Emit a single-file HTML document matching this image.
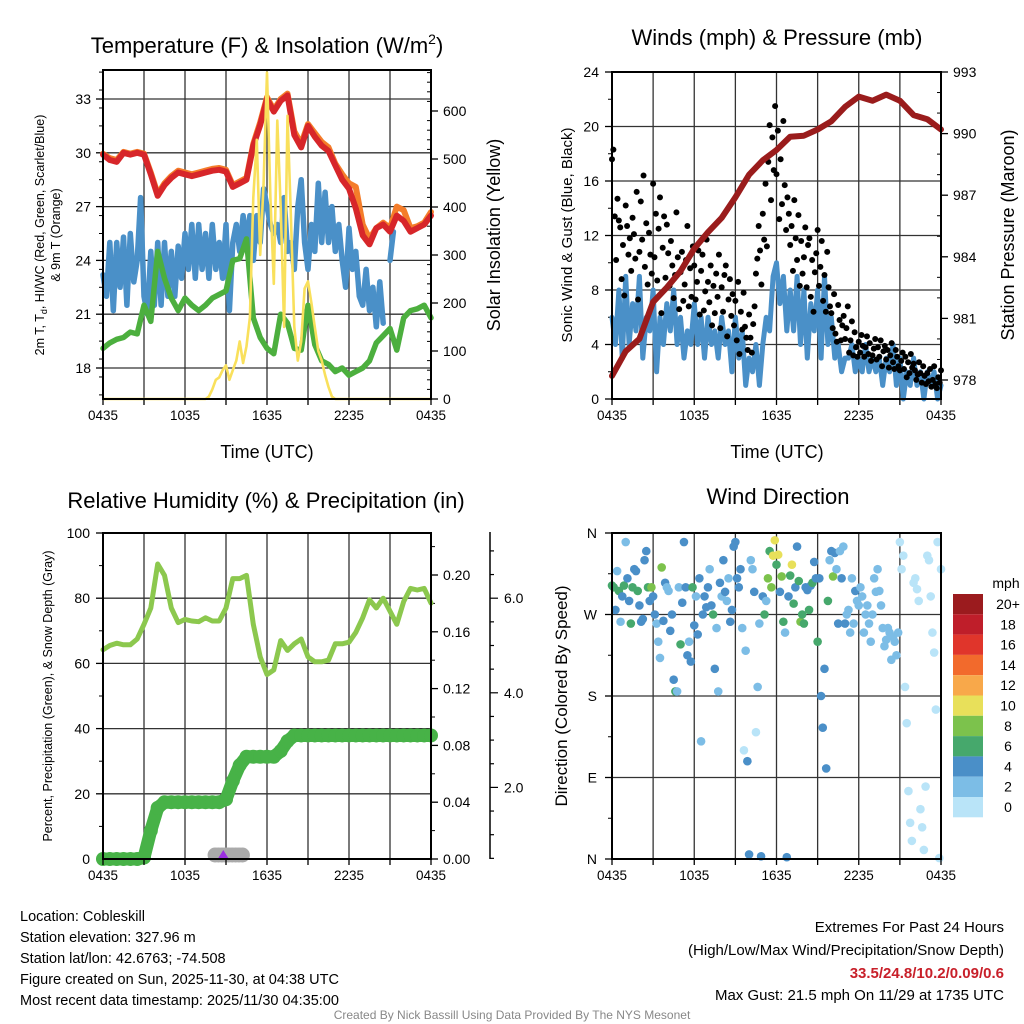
<!DOCTYPE html>
<html><head><meta charset="utf-8"><style>
html,body{margin:0;padding:0;background:#fff;}
svg{display:block;font-family:"Liberation Sans",sans-serif;}
</style></head><body>
<svg id="c" width="1024" height="1024" viewBox="0 0 1024 1024" xmlns="http://www.w3.org/2000/svg"></svg>
<script>
// ---------- DATA ----------
const xTickLabels = ["0435","1035","1635","2235","0435"];
const tempTicks = [18,21,24,27,30,33];
const solarTicks = [0,100,200,300,400,500,600];
const windTicks = [0,4,8,12,16,20,24];
const presTicks = [978,981,984,987,990,993];
const rhTicks = [0,20,40,60,80,100];
const precipTicks = ["0.00","0.04","0.08","0.12","0.16","0.20"];
const snowTicks = ["2.0","4.0","6.0"];
const dirLabels = ["N","E","S","W","N"];
const cbarLabels = ["20+","18","16","14","12","10","8","6","4","2","0"];
const cbarColors = ["#9b1b1e","#bf1e2a","#e0352b","#f26a2c","#f8a84a","#e8e05a","#7cc24c","#46a86c","#4a8fc8","#7cbde6","#b9e4f8"];

const temp2m = [29.9,29.6,29.5,30.0,29.9,30.0,29.9,28.8,27.6,28.2,28.6,28.9,28.8,28.7,28.8,28.9,29.0,29.05,28.95,28.1,28.3,28.5,30.4,31.55,33.0,32.3,32.9,33.2,31.0,30.3,31.5,30.9,30.4,30.1,29.3,28.5,28.0,26.9,25.4,24.9,25.8,26.0,25.6,26.5,26.2,25.6,25.8,26.0,26.5];
const temp9m = [29.95,29.7,29.6,30.05,29.95,30.05,29.95,28.9,27.7,28.3,28.7,29.0,28.9,28.8,28.9,29.0,29.1,29.15,29.05,28.2,28.4,28.6,30.5,31.7,33.1,32.4,33.0,33.3,31.2,30.5,31.6,31.1,30.6,30.3,29.4,28.8,28.3,28.1,26.0,25.2,25.8,26.1,25.8,27.0,26.8,25.8,25.9,26.1,26.7];
const windChill = [23.2,22.0,25.0,21.2,25.0,22.5,25.3,21.5,25.5,22.8,24.0,27.5,22.0,21.0,24.5,21.5,25.0,21.5,25.0,22.0,24.5,22.0,24.8,23.0,25.5,23.5,26.0,23.0,26.0,23.5,25.5,23.0,26.0,23.5,25.0,23.0,26.0,21.2,25.0,26.0,24.5,26.5,25.0,26.5,24.0,26.5,25.0,28.0,27.0,26.0,25.5,26.0,25.0,27.5,24.5,25.0,23.5,27.0,28.5,25.0,23.5,26.0,24.5,28.3,25.0,27.8,25.0,27.0,24.5,26.0,24.0,22.5,25.8,23.5,24.5,22.0,21.5,23.5,21.2,22.5,20.3,22.8,20.5,null,24.0,25.6,null,null,null,null,null,null,null,null,null,null,null];
const dewpoint = [19.1,19.4,19.6,19.7,20.0,19.9,21.5,20.6,24.5,23.0,21.9,21.2,21.9,21.5,21.2,21.5,21.9,22.1,22.3,24.0,24.1,25.2,20.8,19.7,19.1,18.8,21.0,20.5,19.1,19.0,21.5,19.3,18.4,18.2,17.8,18.0,17.6,17.8,18.0,18.4,19.4,19.8,20.2,19.0,20.8,21.2,21.3,21.5,20.8];
const solar = [0,0,0,0,0,0,0,0,0,0,0,0,0,0,0,0,0,0,0,0,0,0,0,0,0,0,0,0,0,0,0,5,20,40,45,60,70,40,60,80,120,75,110,170,420,540,300,450,680,420,240,580,400,150,590,380,150,80,120,230,245,200,150,100,80,50,25,5,0,0,0,0,0,0,0,0,0,0,0,0,0,0,0,0,0,0,0,0,0,0,0,0,0,0,0,0,0];
const pressure = [978.2,979.4,980.0,981.8,982.5,983.3,984.4,985.2,985.9,986.9,988.0,988.7,989.2,989.85,989.9,990.2,990.6,991.3,991.8,991.6,991.9,991.6,990.9,990.7,990.2];
const windSpeed = [6,4,8,3,9,4,7,5,9,3,6,5, 8,2,6,4,7,5,8,4,6,3,5,4, 7,4,6,3,6,4,5,3,6,4,5,2, 6,3,5,1,3,2,4,1,4,6,5,9, 10,7,9,5,8,5,9,4,8,3,7,5, 8,3,9,4,6,3,4,2,3,3,4,2, 3,2,4,2,3,2,3,1,3,2,4,1, 3,0,2,1,3,1,2,0,2,1,2,0,1];
const gusts = [17.6,18.3,13.4,10.2,14.7,13.1,12.6,8.8,11.3,7.6, 14.2,12.7,10.6,11.8,9.4,13.3,12.1,10.3,15.2,7.3, 10.8,14.5,11.7,16.4,9.7,12.9,8.4,12.2,10.6,9.2, 15.8,10.4,13.6,8.7,12.5,14.8,6.3,11.1,13.4,8.9, 12.8,10.7,8.3,11.6,9.8,7.4,9.1,13.7,10.4,6.6, 9.3,10.8,7.2,8.4,10.2,12.7,6.8,9.6,7.5,11.2, 9.8,7.3,8.6,10.9,6.2,9.4,10.6,6.5,7.9,11.7, 8.6,7.1,9.8,5.4,8.3,6.3,9.2,7.5,10.6,5.2, 8.2,6.4,9.1,9.8,4.6,7.3,8.8,6.1,7.7,5.4, 7.2,4.3,8.6,3.3,6.4,5.1,7.8,5.3,4.5,3.6, 6.2,4.5,3.4,5.5,6.8,9.2,10.3,12.7,10.9,8.4, 13.6,11.7,15.8,11.2,17.4,20.1,14.6,19.2,16.8,21.5, 16.5,19.7,13.2,17.6,14.3,20.4,15.7,12.4,14.8,13.6, 11.3,12.7,9.4,14.6,11.8,10.2,13.5,8.3,11.6,9.2, 10.4,12.6,8.2,11.3,11.8,7.5,10.2,6.4,9.3,10.7, 12.4,8.3,9.7,11.6,7.2,9.1,6.4,10.8,8.2,6.8, 6.3,5.2,7.7,4.8,4.2,6.9,5.8,4.3,5.4,6.1, 4.4,5.2,6.8,3.4,4.3,5.7,3.2,4.9,3.8,3.1, 4.2,3.4,4.7,3.9,3.1,3.8,4.6,3.3,4.1,2.8, 3.2,3.7,4.4,2.9,3.8,3.1,4.3,2.4,3.5,3.9, 2.9,3.6,2.3,3.2,4.1,2.7,2.2,3.6,3.1,2.4, 2.1,2.8,3.4,2.2,3.1,1.6,2.7,1.9,3.3,2.3, 2.6,2.1,1.4,1.8,2.7,1.9,1.2,2.4,1.7,1.1, 1.9,1.3,2.2,0.9,1.4,2.4,1.1,0.8,1.6,1.2, 2.1];
const rh = [64.2,65.5,66.2,65.7,65.7,67.5,72,77,90.5,87,77,72.5,73.5,73,72.8,74,73,73,77,86,86,87,72,62,56.6,58,67,64,66,67.5,62,60.5,60.5,61,66,66,66.5,69.5,74,79.5,77,80,76,72,79,83,82.5,83,78.5];
const precip = [0,0,0,0,0,0,0.001,0.02,0.036,0.04,0.04,0.04,0.04,0.04,0.04,0.04,0.04,0.04,0.042,0.055,0.066,0.072,0.072,0.072,0.072,0.072,0.076,0.083,0.087,0.087,0.087,0.087,0.087,0.087,0.087,0.087,0.087,0.087,0.087,0.087,0.087,0.087,0.087,0.087,0.087,0.087,0.087,0.087,0.087];
// snow depth (in) for hours 8.2..10.2 in quarter hours
const snowDepth = [0,0,0,0,0,0,0,0,0];
const windDir = [302,300,275,318,296,262,290,302, 350,310,285,260,300,320,318,296, 280,262,265,330,340,300,285,300, 290,270,260,240,222,322,263,305, 300,296,252,270,198,185,185,300, 237,283,350,300,225,240,218,300, 258,290,248,310,130,270,290,278, 300,320,280,270,210,255,185,305, 290,330,295,285,310,262,275,345, 350,310,300,320,255,120,230,108, 5,330,320,295,140,190,260,3, 290,270,285,310,340,300,335,352, 325,336,295,312,262,250,2,290, 313,325,282,300,345,307,262,270, 260,300,297,275,302,305,328,310, 240,310,180,145,210,100,285,330, 340,312,338,320,260,340,310,345, 260,270,275,250,310,260,296,285, 280,300,290,250,270,280,260,240, 270,310,295,320,296,280,255,235, 242,255,250,220,245,240,225,250, 350,320,335,190,150,75,40,20, 305,310,298,285,55,35,10,80, 335,330,290,250,228,165,350,1, 320];
const dirSpeed = [6,6,4,3,6,3,5,7, 2,4,4,7,6,5,4,7, 5,5,4,4,4,6,5,8, 4,4,3,3,2,8,4,5, 3,3,4,4,4,6,2,2, 6,4,4,4,4,3,4,7, 5,3,4,4,2,4,4,4, 4,2,4,6,4,3,2,4, 3,4,5,3,2,4,4,4, 4,4,4,4,3,1,2,4, 4,2,3,4,1,2,2,4, 5,6,3,8,6,8,10,10, 6,10,5,8,6,3,4,4, 7,10,7,4,4,6,9,7, 6,4,4,6,5,6,4,5, 6,4,4,4,4,4,7,3, 4,8,4,2,4,2,4,2, 4,2,3,3,2,2,4,2, 2,2,2,2,2,2,2,2, 2,2,2,2,2,2,2,2, 2,2,2,2,2,2,2,2, 1,1,1,1,1,1,1,1, 1,1,1,1,1,1,1,1, 1,1,1,1,1,1,1,1, 1];

// ---------- HELPERS ----------
const NS="http://www.w3.org/2000/svg";
const svg=document.getElementById('c');
function mk(tag,attrs,parent){const e=document.createElementNS(NS,tag);for(const k in attrs)e.setAttribute(k,attrs[k]);(parent||svg).appendChild(e);return e;}
function txt(s,x,y,size,anchor,parent,extra){const e=mk('text',Object.assign({x:x,y:y,'font-size':size,'text-anchor':anchor||'middle',fill:'#000'},extra||{}),parent);e.textContent=s;return e;}
function line(x1,y1,x2,y2,w,col,parent){return mk('line',{x1:x1,y1:y1,x2:x2,y2:y2,stroke:col||'#000','stroke-width':w},parent);}
function pathFrom(arr,step,xf,yf){let d='',pen=false;arr.forEach((v,i)=>{if(v===null){pen=false;return;}d+=(pen?'L':'M')+xf(i*step).toFixed(1)+','+yf(v).toFixed(1);pen=true;});return d;}

function panelFrame(g,x0,x1,y0,y1){
  for(let h=3;h<24;h+=3){const x=x0+(x1-x0)*h/24;const l=line(x,y0,x,y1,1.3,'#333',g);}
}
function xAxis(g,x0,x1,y1,labY){
  for(let h=0;h<=24;h+=3){const x=x0+(x1-x0)*h/24;line(x,y1,x,y1+6,1.3,'#000',g);}
  xTickLabels.forEach((s,i)=>{const t=txt(s,x0+(x1-x0)*i/4,labY,13.5,'middle',g);});
}

// ---------- PANEL 1 ----------
(function(){
  const g=mk('g',{});  
  const x0=103,x1=431,y0=70,y1=399;
  const xT=t=>x0+(x1-x0)*t/24;
  const yT=v=>368-(v-18)*53.8/3;
  const yS=v=>399-v*0.48;
  panelFrame(g,x0,x1,y0,y1);
  tempTicks.forEach(v=>{const y=yT(v);const l=line(x0,y,x1,y,1.3,'#333',g);line(x0-7,y,x0,y,1.3,'#000',g);const t=txt(String(v),x0-12,y+5,14,'end',g);});
  for(let v=16.5;v<34.6;v+=1){const y=yT(v);if(y>y0&&y<y1)line(x0-4,y,x0,y,1,'#000',g);}
  solarTicks.forEach(v=>{const y=yS(v);line(x1,y,x1+7,y,1.3,'#000',g);const t=txt(String(v),x1+12,y+5,14,'start',g);});
  for(let v=20;v<=680;v+=20){if(v%100)line(x1-4,yS(v),x1,yS(v),1,'#000',g);}
  const pw=mk('path',{d:pathFrom(windChill,0.25,xT,yT),fill:'none',stroke:'#4a90c8','stroke-width':5.5,'stroke-linejoin':'round','stroke-linecap':'round'},g);
   
  const pd=mk('path',{d:pathFrom(dewpoint,0.5,xT,yT),fill:'none',stroke:'#4caf3e','stroke-width':5.5,'stroke-linejoin':'round','stroke-linecap':'round'},g);
   
  const po=mk('path',{d:pathFrom(temp9m,0.5,xT,yT),fill:'none',stroke:'#f47d2a','stroke-width':6,'stroke-linejoin':'round','stroke-linecap':'round'},g);
   
  const pr=mk('path',{d:pathFrom(temp2m,0.5,xT,yT),fill:'none',stroke:'#d7262a','stroke-width':6,'stroke-linejoin':'round','stroke-linecap':'round'},g);
   
  const py=mk('path',{d:pathFrom(solar,0.25,xT,yS),fill:'none',stroke:'#f9e05c','stroke-width':2.6,'stroke-linejoin':'round'},g);
   
  mk('rect',{x:x0,y:y0,width:x1-x0,height:y1-y0,fill:'none',stroke:'#000','stroke-width':2},g);
  xAxis(g,x0,x1,y1,420);
  const tt=mk('text',{x:267,y:53,'font-size':22,'text-anchor':'middle'},g); tt.innerHTML='Temperature (F) &amp; Insolation (W/m<tspan font-size="14" dy="-9">2</tspan><tspan dy="9">)</tspan>';
   
  const xl=txt('Time (UTC)',267,458,18,'middle',g);  
  const yl=mk('text',{transform:'translate(44,235) rotate(-90)','font-size':12.5,'text-anchor':'middle'},g);
  yl.innerHTML='2m T, T<tspan font-size="9" dy="3">d</tspan><tspan dy="-3">, HI/WC (Red, Green, Scarlet/Blue)</tspan>';
   
  const yl2=txt('& 9m T (Orange)',0,0,12.5,'middle',g); yl2.setAttribute('transform','translate(60,235) rotate(-90)');
   
  const yr=txt('Solar Insolation (Yellow)',0,0,18,'middle',g); yr.setAttribute('transform','translate(500,235) rotate(-90)');
   
})();

// ---------- PANEL 2 ----------
(function(){
  const g=mk('g',{});  
  const x0=612,x1=941,y0=72,y1=399;
  const xT=t=>x0+(x1-x0)*t/24;
  const yW=v=>399-v*(327/24);
  const yP=v=>380-(v-978)*(308/15);
  panelFrame(g,x0,x1,y0,y1);
  windTicks.forEach(v=>{const y=yW(v);const l=line(x0,y,x1,y,1.3,'#333',g);line(x0-7,y,x0,y,1.3,'#000',g);const t=txt(String(v),x0-13,y+5,14,'end',g);});
  for(let v=2;v<24;v+=4)line(x0-4,yW(v),x0,yW(v),1,'#000',g);
  presTicks.forEach(v=>{const y=yP(v);line(x1,y,x1+7,y,1.3,'#000',g);const t=txt(String(v),x1+12,y+5,14,'start',g);});
  for(let v=978;v<=993;v+=1){if((v-978)%3)line(x1-4,yP(v),x1,yP(v),1,'#000',g);}
  const pb=mk('path',{d:pathFrom(windSpeed,0.25,xT,yW),fill:'none',stroke:'#4a90c8','stroke-width':5,'stroke-linejoin':'round','stroke-linecap':'round'},g);
   
  gusts.forEach((v,i)=>{const c=mk('circle',{cx:xT(i*0.1),cy:yW(v),r:3,fill:'#000'},g);});
  const pm=mk('path',{d:pathFrom(pressure,1,xT,yP),fill:'none',stroke:'#9a1c1c','stroke-width':6,'stroke-linejoin':'round','stroke-linecap':'round'},g);
   
  mk('rect',{x:x0,y:y0,width:x1-x0,height:y1-y0,fill:'none',stroke:'#000','stroke-width':2},g);
  xAxis(g,x0,x1,y1,420);
  const tt=txt('Winds (mph) & Pressure (mb)',777,45,22,'middle',g);  
  const xl=txt('Time (UTC)',777,458,18,'middle',g);  
  const yl=txt('Sonic Wind & Gust (Blue, Black)',0,0,15,'middle',g); yl.setAttribute('transform','translate(572,235) rotate(-90)');
   
  const yr=txt('Station Pressure (Maroon)',0,0,18,'middle',g); yr.setAttribute('transform','translate(1014,235) rotate(-90)');
   
})();

// ---------- PANEL 3 ----------
(function(){
  const g=mk('g',{});  
  const x0=103,x1=431,y0=533,y1=859;
  const xT=t=>x0+(x1-x0)*t/24;
  const yR=v=>859-v*3.26;
  const yPr=v=>859-v/0.2*284;
  panelFrame(g,x0,x1,y0,y1);
  rhTicks.forEach(v=>{const y=yR(v);const l=line(x0,y,x1,y,1.3,'#333',g);line(x0-7,y,x0,y,1.3,'#000',g);const t=txt(String(v),x0-13,y+5,14,'end',g);});
  for(let v=10;v<100;v+=20)line(x0-4,yR(v),x0,yR(v),1,'#000',g);
  precipTicks.forEach(s=>{const y=yPr(parseFloat(s));line(x1,y,x1+7,y,1.3,'#000',g);const t=txt(s,x1+12,y+5,14,'start',g);});
  for(let v=0.02;v<0.23;v+=0.04)line(x1,yPr(v),x1+4,yPr(v),1,'#000',g);
  const ox=490;
  const ax=line(ox,532,ox,859,1.5,'#000',g);  
  const ySn=v=>882-v*47.3;
  for(let v=0.5;v<=7.5;v+=0.5){const y=ySn(v);if(y>=532&&y<=859)line(ox,y,ox+(v%2===0?8:4),y,1.2,'#000',g);}
  snowTicks.forEach(s=>{const y=ySn(parseFloat(s));const t=txt(s,ox+14,y+5,14,'start',g);});
  const ph=mk('path',{d:pathFrom(rh,0.5,xT,yR),fill:'none',stroke:'#8cc84e','stroke-width':5,'stroke-linejoin':'round','stroke-linecap':'round'},g);
   
  snowDepth.forEach((v,i)=>{const c=mk('circle',{cx:xT(8.2+i*0.25),cy:yR(v)-4,r:7.5,fill:'#aaa'},g);});
  const pp=mk('path',{d:pathFrom(precip,0.5,xT,yPr),fill:'none',stroke:'#47b247','stroke-width':13,'stroke-linejoin':'round','stroke-linecap':'round'},g);
   
  precip.forEach((v,i)=>{const c=mk('circle',{cx:xT(i*0.5),cy:yPr(v),r:7,fill:'#47b247'},g);});
  const tri=mk('path',{d:`M${xT(8.8)-5},858 L${xT(8.8)},850 L${xT(8.8)+5},858 Z`,fill:'#9b30e0'},g);
   
  mk('rect',{x:x0,y:y0,width:x1-x0,height:y1-y0,fill:'none',stroke:'#000','stroke-width':2},g);
  xAxis(g,x0,x1,y1,880);
  const tt=txt('Relative Humidity (%) & Precipitation (in)',266,508,22,'middle',g);  
  const yl=txt('Percent, Precipitation (Green), & Snow Depth (Gray)',0,0,12.5,'middle',g); yl.setAttribute('transform','translate(52,696) rotate(-90)');
   
})();

// ---------- PANEL 4 ----------
(function(){
  const g=mk('g',{});  
  const x0=612,x1=941,y0=533,y1=859;
  const xT=t=>x0+(x1-x0)*t/24;
  const yD=v=>859-v/360*326;
  panelFrame(g,x0,x1,y0,y1);
  dirLabels.forEach((s,i)=>{const y=yD(i*90);const l=line(x0,y,x1,y,1.3,'#333',g);line(x0-7,y,x0,y,1.3,'#000',g);const t=txt(s,x0-15,y+5,14,'end',g);});
  for(let v=45;v<360;v+=90)line(x0-4,yD(v),x0,yD(v),1,'#000',g);
  windDir.forEach((d,i)=>{const s=dirSpeed[i];const idx=Math.max(0,10-Math.floor(s/2));const col=cbarColors[idx];const c=mk('circle',{cx:xT(i*0.125),cy:yD(d),r:4.3,fill:col},g);});
  mk('rect',{x:x0,y:y0,width:x1-x0,height:y1-y0,fill:'none',stroke:'#000','stroke-width':2},g);
  xAxis(g,x0,x1,y1,880);
  const tt=txt('Wind Direction',778,504,22,'middle',g);  
  const yl=txt('Direction (Colored By Speed)',0,0,17,'middle',g); yl.setAttribute('transform','translate(567,696) rotate(-90)');
   
  const cg=mk('g',{},g);  
  const ct=txt('mph',1006,588,14,'middle',cg);  
  cbarColors.forEach((c,i)=>{const r=mk('rect',{x:953,y:594+i*20.3,width:30,height:20.3,fill:c},cg);
    const t=txt(cbarLabels[i],1008,594+i*20.3+15,14,'middle',cg);});
})();

// ---------- FOOTER ----------
(function(){
  const g=mk('g',{});  
  const lines=["Location: Cobleskill","Station elevation: 327.96 m","Station lat/lon: 42.6763; -74.508","Figure created on Sun, 2025-11-30, at 04:38 UTC","Most recent data timestamp: 2025/11/30 04:35:00"];
  lines.forEach((s,i)=>{const t=txt(s,20,921+i*21,14.5,'start',g);});
  const g2=mk('g',{});  
  let t=txt('Extremes For Past 24 Hours',1004,932,15,'end',g2);  
  t=txt('(High/Low/Max Wind/Precipitation/Snow Depth)',1004,955,15,'end',g2);  
  t=txt('33.5/24.8/10.2/0.09/0.6',1004,978,15,'end',g2,{fill:'#c8202a','font-weight':'bold'});  
  t=txt('Max Gust: 21.5 mph On 11/29 at 1735 UTC',1004,1000,15,'end',g2);  
  t=txt('Created By Nick Bassill Using Data Provided By The NYS Mesonet',512,1019,12,'middle',null,{fill:'#888'});  
})();
</script>
</body></html>
